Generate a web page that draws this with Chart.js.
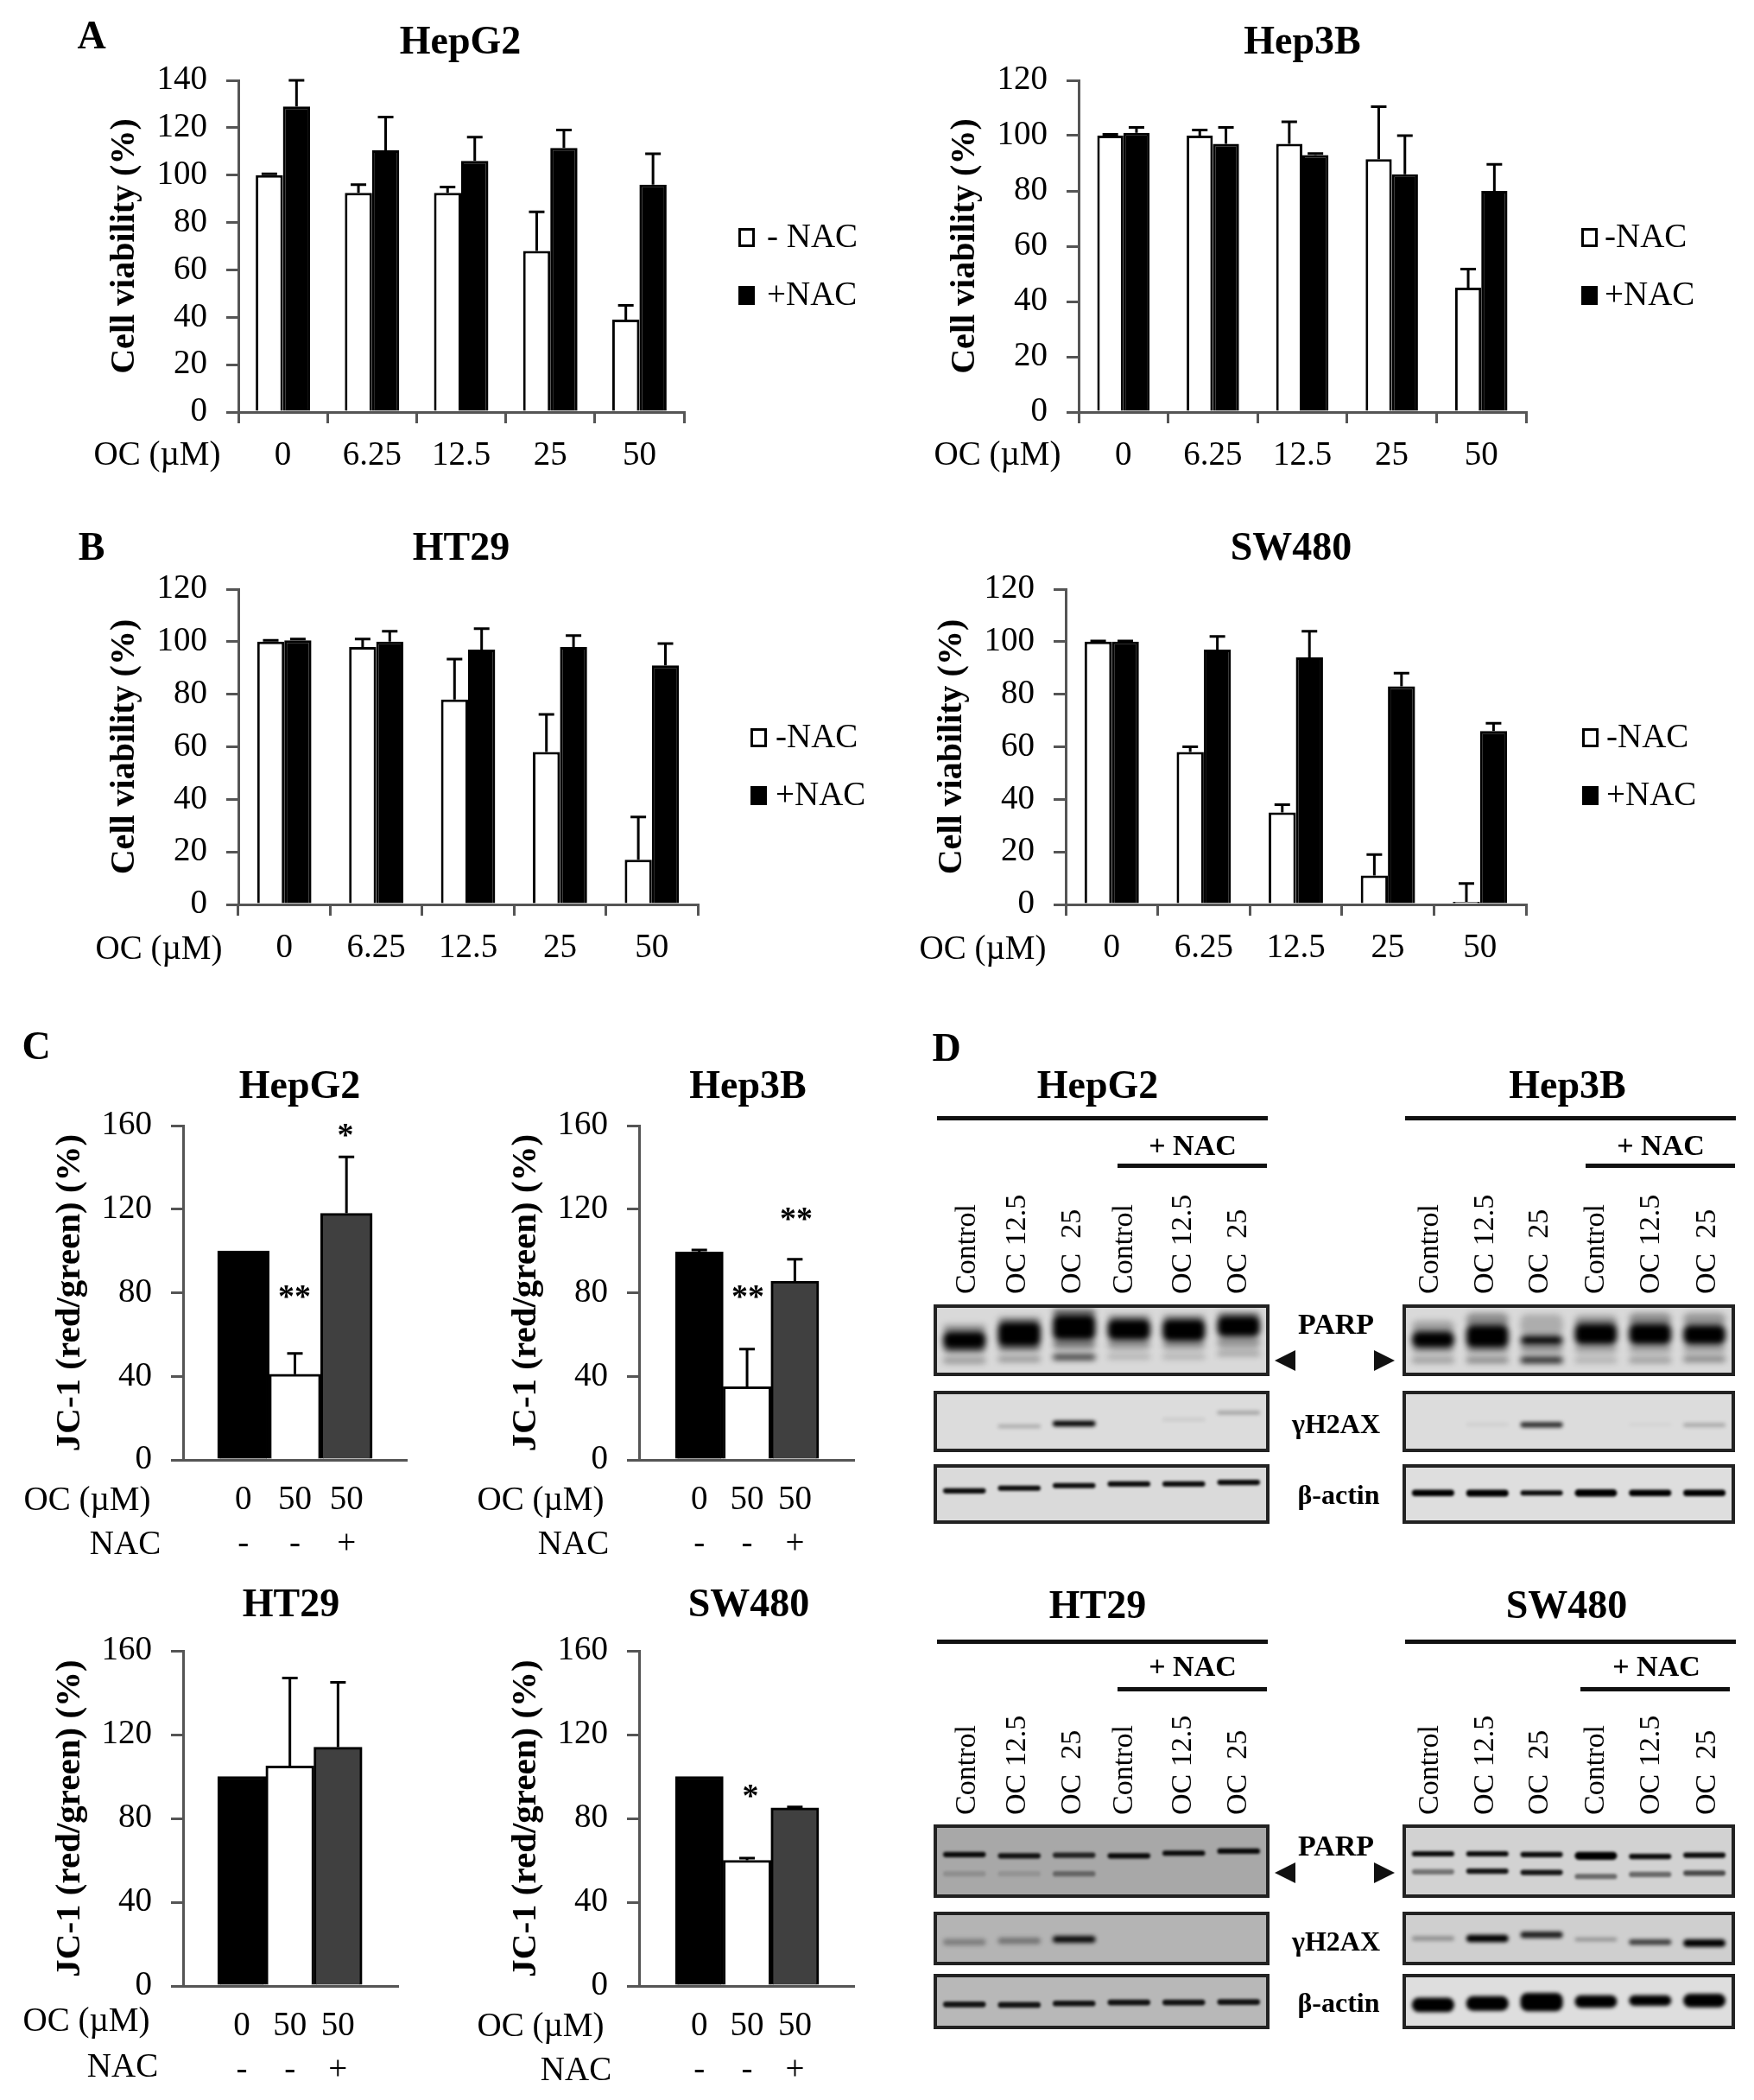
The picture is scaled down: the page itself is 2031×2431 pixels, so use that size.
<!DOCTYPE html>
<html>
<head>
<meta charset="utf-8">
<title>OC NAC viability, JC-1 and western blots</title>
<script src="https://cdn.jsdelivr.net/npm/chart.js@4"></script>
<style>
	html, body { margin: 0; padding: 0; background: #fff; }
	#page { position: relative; width: 2031px; height: 2431px; overflow: hidden; filter: blur(0.5px); }
	#page canvas { position: absolute; display: block; }
	.txt { position: absolute; font-family: "Liberation Serif", serif; color: #000; white-space: pre; line-height: 1; }
	.blot { position: absolute; box-sizing: border-box; border: 4px solid #222; overflow: hidden; }
	.mark { position: absolute; }
	.rule { position: absolute; background: #111; height: 5px; }
</style>
</head>
<body>
<div id="page"></div>
<script>
// panels A and B: cell viability (%)
const doses = ["0", "6.25", "12.5", "25", "50"];

const hepg2Minus = [100, 92.5, 92.5, 68, 39];
const hepg2MinusTop = [100.5, 96, 95, 84.5, 45];
const hepg2Plus = [129, 110.5, 106, 111.5, 96];
const hepg2PlusTop = [140, 124.5, 116, 119, 109];

const hep3bMinus = [100, 100, 97, 91.5, 45];
const hep3bMinusTop = [100.5, 102, 105, 110.5, 51.7];
const hep3bPlus = [101, 97, 93, 86, 80];
const hep3bPlusTop = [103, 103, 93.5, 100, 89.6];

const ht29Minus = [100, 98, 78, 58, 17];
const ht29MinusTop = [100.5, 101, 93.4, 72.3, 33.3];
const ht29Plus = [100.5, 100, 97, 98, 91];
const ht29PlusTop = [101, 104, 105, 102.3, 99.3];

const sw480Minus = [100, 58, 35, 11, 1];
const sw480MinusTop = [100.3, 60, 38, 19, 8];
const sw480Plus = [100, 97, 94, 83, 66];
const sw480PlusTop = [100.3, 102, 104, 88, 69];

// panel C: JC-1 (red/green) (%)
const jcDoses = ["0", "50", "50"];
const jcNac = ["-", "-", "+"];
const jcHepg2 = [100, 41, 118];
const jcHepg2Top = [100, 51, 145];
const jcHep3b = [99.5, 35, 85.5];
const jcHep3bTop = [100.5, 53, 96];
const jcHt29 = [100, 105, 114];
const jcHt29Top = [100, 147, 145];
const jcSw480 = [100, 60, 85];
const jcSw480Top = [100, 61, 85.5];

// panel D: one row per band, one [low, high, density] per lane, % of blot height
const laneNames = ["Control", "OC 12.5", "OC  25", "Control", "OC 12.5", "OC  25"];
const hepg2Parp = [
	[[36, 64, 1], [40, 79, 1], [50, 90, 1], [50, 83, 1], [48, 83, 1], [55, 88, 1]],
	[[30, 42, 0.35], [32, 44, 0.35], [36, 52, 0.4], [36, 52, 0.3], [36, 50, 0.3], [38, 55, 0.3]],
	[[62, 74, 0.3], [76, 86, 0.3], [88, 98, 0.5], [80, 90, 0.25], [80, 90, 0.25], [84, 94, 0.3]],
	[[14, 24, 0.3], [17, 25, 0.35], [20, 28, 0.85], [21, 29, 0.2], [21, 29, 0.2], [26, 33, 0.3]],
];
const hep3bParp = [
	[[38, 64, 1], [38, 74, 1], [43, 57, 1], [43, 76, 1], [43, 76, 1], [43, 74, 1]],
	[[60, 80, 0.25], [70, 92, 0.35], [57, 90, 0.2], [70, 88, 0.3], [72, 92, 0.35], [72, 92, 0.3]],
	[[30, 40, 0.25], [30, 40, 0.3], [30, 43, 0.3], [30, 43, 0.25], [30, 43, 0.25], [30, 43, 0.25]],
	[[15, 24, 0.3], [15, 24, 0.4], [15, 24, 0.95], [15, 24, 0.2], [15, 24, 0.3], [17, 25, 0.45]],
];
const hepg2Gamma = [
	[[0, 0, 0], [38, 44, 0.25], [41, 51, 1], [0, 0, 0], [51, 56, 0.1], [63, 69, 0.3]],
];
const hep3bGamma = [
	[[0, 0, 0], [42, 47, 0.08], [39, 49, 0.8], [0, 0, 0], [42, 47, 0.05], [40, 47, 0.25]],
];
const hepg2Actin = [
	[[51, 61, 0.95], [56, 66, 0.95], [61, 71, 0.95], [64, 74, 0.95], [64, 74, 0.95], [67, 77, 0.95]],
];
const hep3bActin = [
	[[46, 58, 1], [45, 58, 1], [47, 57, 0.95], [45, 59, 1], [46, 58, 1], [46, 58, 1]],
];
const ht29Parp = [
	[[56, 64, 0.95], [54, 62, 0.9], [55, 63, 0.8], [54, 62, 0.95], [58, 66, 0.95], [61, 69, 0.95]],
	[[27, 35, 0.15], [27, 35, 0.12], [27, 35, 0.4], [0, 0, 0], [0, 0, 0], [0, 0, 0]],
];
const sw480Parp = [
	[[57, 65, 0.95], [57, 65, 0.95], [56, 64, 0.95], [52, 64, 1], [53, 61, 0.95], [55, 63, 0.95]],
	[[30, 38, 0.45], [31, 39, 0.9], [29, 37, 0.9], [23, 31, 0.5], [26, 34, 0.5], [28, 36, 0.65]],
];
const ht29Gamma = [
	[[35, 49, 0.3], [38, 52, 0.35], [41, 55, 1], [0, 0, 0], [0, 0, 0], [0, 0, 0]],
];
const sw480Gamma = [
	[[45, 55, 0.3], [42, 58, 1], [51, 65, 0.85], [44, 52, 0.3], [36, 48, 0.7], [32, 48, 1]],
];
const ht29Actin = [
	[[38, 50, 0.9], [37, 49, 0.9], [40, 52, 0.9], [42, 54, 0.9], [42, 54, 0.9], [43, 55, 0.9]],
];
const sw480Actin = [
	[[28, 58, 1], [31, 61, 1], [30, 68, 1], [37, 63, 1], [41, 63, 1], [38, 66, 1]],
];

Chart.defaults.animation = false;
Chart.defaults.responsive = false;
Chart.defaults.font.family = '"Liberation Serif", serif';
Chart.defaults.color = "#000";

const page = document.getElementById("page");
const AXIS = "#555";
const TOP_PAD = 30;

// upper error bars, read from dataset.tops
const errorBars = {
	id: "errorBars",
	afterDatasetsDraw(chart) {
		const ctx = chart.ctx;
		ctx.save();
		ctx.strokeStyle = "#000";
		ctx.lineWidth = 3;
		chart.data.datasets.forEach((ds, d) => {
			chart.getDatasetMeta(d).data.forEach((bar, i) => {
				if (ds.tops[i] <= ds.values[i]) return;
				const y = chart.scales.y.getPixelForValue(ds.tops[i]);
				ctx.beginPath();
				ctx.moveTo(bar.x, bar.y);
				ctx.lineTo(bar.x, y);
				ctx.moveTo(bar.x - 9, y);
				ctx.lineTo(bar.x + 9, y);
				ctx.stroke();
			});
		});
		ctx.restore();
	},
};

// bands of a blot are soft, not crisp rectangles
const softBands = {
	id: "softBands",
	beforeDatasetsDraw(chart, args, opts) {
		chart.ctx.save();
		chart.ctx.filter = `blur(${opts.radius}px)`;
	},
	afterDatasetsDraw(chart) {
		chart.ctx.restore();
	},
};

function addCanvas(left, top, width, height, parent) {
	const c = document.createElement("canvas");
	c.width = width;
	c.height = height;
	c.style.left = left + "px";
	c.style.top = top + "px";
	(parent || page).appendChild(c);
	return c;
}

function label(text, x, y, size, opts) {
	const o = opts || {};
	const el = document.createElement("div");
	el.className = "txt";
	el.textContent = text;
	el.style.left = x + "px";
	el.style.fontSize = size + "px";
	if (o.bold) el.style.fontWeight = "bold";
	if (o.lane) {
		el.style.top = y + "px";
		el.style.transformOrigin = "0 0";
		el.style.transform = "rotate(-90deg) translateY(-50%)";
	} else {
		el.style.top = y - 3 + "px";
		el.style.transform = o.left ? "translate(0, -50%)" : "translate(-50%, -50%)";
	}
	page.appendChild(el);
}

// keep the plot edges on the first and last tick, no room held back for labels
function pinnedWidth(width) {
	return (s) => {
		s.width = width;
		s.paddingTop = 0;
		s.paddingBottom = 0;
	};
}

function pinnedHeight(height) {
	return (s) => {
		s.height = height;
		s.paddingLeft = 0;
		s.paddingRight = 0;
	};
}

function yAxis(max, step, title, titleSize, width) {
	return {
		min: 0,
		max: max,
		ticks: { stepSize: step, padding: 22, font: { size: 39 } },
		grid: { drawOnChartArea: false, tickLength: 14, color: AXIS, lineWidth: 3 },
		border: { color: AXIS, width: 3 },
		title: { display: true, text: title, padding: 0, font: { size: titleSize, weight: "bold" } },
		afterFit: pinnedWidth(width),
	};
}

// one viability chart, placed by its axis corner
function viabilityChart(axisX, topY, rightX, zeroY, titleGap, yMax, minus, minusTop, plus, plusTop, share) {
	const yWidth = titleGap + 24;
	const canvas = addCanvas(axisX - yWidth, topY - TOP_PAD, yWidth + rightX - axisX + 4, TOP_PAD + zeroY - topY + 90);
	new Chart(canvas, {
		type: "bar",
		data: {
			labels: doses,
			datasets: [
				{ label: "-NAC", data: minus, values: minus, tops: minusTop, backgroundColor: "#fff", borderColor: "#000", borderWidth: 3, categoryPercentage: share, barPercentage: 1 },
				{ label: "+NAC", data: plus, values: plus, tops: plusTop, backgroundColor: "#000", borderColor: "#000", borderWidth: 3, categoryPercentage: share, barPercentage: 1 },
			],
		},
		options: {
			layout: { autoPadding: false, padding: { top: TOP_PAD, right: 4 } },
			plugins: { legend: { display: false }, tooltip: { enabled: false } },
			scales: {
				x: {
					ticks: { autoSkip: false, maxRotation: 0, padding: 14, font: { size: 39 } },
					grid: { drawOnChartArea: false, tickLength: 13, color: AXIS, lineWidth: 3 },
					border: { color: AXIS, width: 3 },
					afterFit: pinnedHeight(90),
				},
				y: yAxis(yMax, 20, "Cell viability (%)", 40, yWidth),
			},
		},
		plugins: [errorBars],
	});
}

// one JC-1 chart; x is linear so the three touching bars sit inside a longer axis
function jcChart(axisX, topY, rightX, zeroY, titleGap, xMin, xMax, values, tops) {
	const yWidth = titleGap + 24;
	const canvas = addCanvas(axisX - yWidth, topY - TOP_PAD, yWidth + rightX - axisX + 4, TOP_PAD + zeroY - topY + 125);
	new Chart(canvas, {
		type: "bar",
		data: {
			datasets: [{
				data: values.map((v, i) => ({ x: i + 1, y: v })),
				values: values,
				tops: tops,
				backgroundColor: ["#000", "#fff", "#404040"],
				borderColor: "#000",
				borderWidth: 3,
				categoryPercentage: 1,
				barPercentage: 1,
			}],
		},
		options: {
			layout: { autoPadding: false, padding: { top: TOP_PAD, right: 4 } },
			plugins: { legend: { display: false }, tooltip: { enabled: false } },
			scales: {
				x: {
					type: "linear",
					offset: false,
					min: xMin,
					max: xMax,
					afterBuildTicks: (s) => { s.ticks = [1, 2, 3].map((v) => ({ value: v })); },
					ticks: {
						autoSkip: false,
						maxRotation: 0,
						padding: 21,
						font: { size: 39, lineHeight: 1.31 },
						callback: (v) => [jcDoses[v - 1], jcNac[v - 1]],
					},
					grid: { drawOnChartArea: false, drawTicks: false, color: AXIS },
					border: { color: AXIS, width: 3 },
					afterFit: pinnedHeight(125),
				},
				y: yAxis(160, 40, "JC-1 (red/green) (%)", 41, yWidth),
			},
		},
		plugins: [errorBars],
	});
}

// one blot strip: lanes on a category scale, bands as floating bars
function blot(left, top, right, bottom, gray, bands, soft) {
	const box = document.createElement("div");
	box.className = "blot";
	box.style.left = left + "px";
	box.style.top = top + "px";
	box.style.width = right - left + "px";
	box.style.height = bottom - top + "px";
	box.style.background = gray;
	page.appendChild(box);
	const canvas = addCanvas(0, 0, right - left - 8, bottom - top - 8, box);
	new Chart(canvas, {
		type: "bar",
		data: {
			labels: laneNames,
			datasets: bands.map((band) => ({
				data: band.map((b) => [b[0], b[1]]),
				backgroundColor: band.map((b) => `rgba(0,0,0,${b[2]})`),
				borderRadius: 8,
				borderSkipped: false,
				categoryPercentage: 0.78,
				barPercentage: 1,
				grouped: false,
			})),
		},
		options: {
			layout: { autoPadding: false },
			plugins: { legend: { display: false }, tooltip: { enabled: false }, softBands: { radius: soft } },
			scales: {
				x: { display: false },
				y: { display: false, min: 0, max: 100 },
			},
		},
		plugins: [softBands],
	});
}

function legend(boxX, textX, y1, y2, minusText) {
	[[y1, "#fff"], [y2, "#000"]].forEach(([y, fill]) => {
		const sq = document.createElement("div");
		sq.className = "mark";
		sq.style.cssText = `left:${boxX}px;top:${y - 11}px;width:19px;height:22px;box-sizing:border-box;border:3px solid #000;background:${fill}`;
		page.appendChild(sq);
	});
	label(minusText, textX, y1, 39, { left: true });
	label("+NAC", textX, y2, 39, { left: true });
}

function arrow(x, y, pointsRight) {
	const a = document.createElement("div");
	a.className = "mark";
	const side = pointsRight ? "border-left" : "border-right";
	a.style.cssText = `left:${x}px;top:${y - 12}px;width:0;height:0;border-top:12px solid transparent;border-bottom:12px solid transparent;${side}:24px solid #111`;
	page.appendChild(a);
}

function rule(x1, x2, y) {
	const r = document.createElement("div");
	r.className = "rule";
	r.style.left = x1 + "px";
	r.style.width = x2 - x1 + "px";
	r.style.top = y - 2 + "px";
	page.appendChild(r);
}

// panels A and B
viabilityChart(276, 93, 792, 477, 131, 140, hepg2Minus, hepg2MinusTop, hepg2Plus, hepg2PlusTop, 0.61);
viabilityChart(1249, 93, 1767, 477, 131, 120, hep3bMinus, hep3bMinusTop, hep3bPlus, hep3bPlusTop, 0.585);
viabilityChart(276, 682, 808, 1047, 131, 120, ht29Minus, ht29MinusTop, ht29Plus, ht29PlusTop, 0.59);
viabilityChart(1234, 682, 1767, 1047, 131, 120, sw480Minus, sw480MinusTop, sw480Plus, sw480PlusTop, 0.59);

label("A", 106, 44, 46, { bold: true });
label("B", 106, 636, 46, { bold: true });
label("C", 42, 1214, 46, { bold: true });
label("D", 1096, 1216, 46, { bold: true });
label("HepG2", 533, 50, 46, { bold: true });
label("Hep3B", 1508, 50, 46, { bold: true });
label("HT29", 534, 636, 46, { bold: true });
label("SW480", 1495, 636, 46, { bold: true });

label("OC (µM)", 182, 527, 39);
label("OC (µM)", 1155, 527, 39);
label("OC (µM)", 184, 1099, 39);
label("OC (µM)", 1138, 1099, 39);

legend(855, 888, 275, 342, "- NAC");
legend(1831, 1858, 275, 342, "-NAC");
legend(869, 898, 854, 921, "-NAC");
legend(1832, 1860, 854, 921, "-NAC");

// panel C
jcChart(212, 1303, 471, 1690, 131, -0.17, 4.17, jcHepg2, jcHepg2Top);
jcChart(740, 1303, 989, 1690, 131, -0.26, 4.24, jcHep3b, jcHep3bTop);
jcChart(212, 1911, 461, 2299, 131, -0.22, 4.25, jcHt29, jcHt29Top);
jcChart(740, 1911, 989, 2299, 131, -0.26, 4.24, jcSw480, jcSw480Top);

label("HepG2", 347, 1259, 46, { bold: true });
label("Hep3B", 866, 1259, 46, { bold: true });
label("HT29", 337, 1859, 46, { bold: true });
label("SW480", 867, 1859, 46, { bold: true });

label("OC (µM)", 101, 1737, 39);
label("NAC", 145, 1788, 39);
label("OC (µM)", 626, 1737, 39);
label("NAC", 664, 1788, 39);
label("OC (µM)", 100, 2340, 39);
label("NAC", 142, 2393, 39);
label("OC (µM)", 626, 2346, 39);
label("NAC", 667, 2397, 39);

label("*", 400, 1316, 38, { bold: true });
label("**", 341, 1503, 38, { bold: true });
label("**", 866, 1503, 38, { bold: true });
label("**", 922, 1413, 38, { bold: true });
label("*", 869, 2081, 38, { bold: true });

// panel D
const laneXLeft = [1118, 1176, 1240, 1300, 1368, 1432];
const laneXRight = [1654, 1718, 1781, 1846, 1910, 1975];

function blotGroup(name, titleX, titleY, ruleY, nacY, nacLineY, nacX, nacStart, nacEnd, laneX, laneBottom, ruleStart, ruleEnd) {
	label(name, titleX, titleY, 46, { bold: true });
	rule(ruleStart, ruleEnd, ruleY);
	label("+ NAC", nacX, nacY, 34, { bold: true });
	rule(nacStart, nacEnd, nacLineY);
	laneNames.forEach((n, i) => label(n, laneX[i], laneBottom, 34, { lane: true }));
}

blotGroup("HepG2", 1271, 1259, 1294, 1329, 1349, 1381, 1294, 1467, laneXLeft, 1498, 1085, 1468);
blotGroup("Hep3B", 1815, 1259, 1294, 1329, 1349, 1923, 1836, 2009, laneXRight, 1498, 1627, 2010);
blotGroup("HT29", 1271, 1861, 1900, 1932, 1955, 1381, 1294, 1467, laneXLeft, 2101, 1085, 1468);
blotGroup("SW480", 1814, 1861, 1900, 1932, 1955, 1918, 1830, 2003, laneXRight, 2101, 1627, 2010);

blot(1081, 1510, 1470, 1593, "#d9d9d9", hepg2Parp, 3.5);
blot(1081, 1610, 1470, 1681, "#dcdcdc", hepg2Gamma, 2);
blot(1081, 1695, 1470, 1764, "#dadada", hepg2Actin, 1.5);
blot(1624, 1510, 2009, 1593, "#d9d9d9", hep3bParp, 3.5);
blot(1624, 1610, 2009, 1681, "#dcdcdc", hep3bGamma, 2);
blot(1624, 1695, 2009, 1764, "#dedede", hep3bActin, 1.5);
blot(1081, 2112, 1470, 2197, "#a8a8a8", ht29Parp, 1.5);
blot(1081, 2213, 1470, 2275, "#b4b4b4", ht29Gamma, 2.5);
blot(1081, 2285, 1470, 2349, "#b8b8b8", ht29Actin, 1.5);
blot(1624, 2112, 2009, 2197, "#d2d2d2", sw480Parp, 1.5);
blot(1624, 2213, 2009, 2275, "#cfcfcf", sw480Gamma, 2);
blot(1624, 2285, 2009, 2349, "#dedede", sw480Actin, 2);

[[1536, 1651, 1733, 1575], [2140, 2250, 2321, 2168]].forEach(([parpY, gammaY, actinY, arrowY]) => {
	label("PARP", 1547, parpY, 34, { bold: true });
	label("γH2AX", 1547, gammaY, 32, { bold: true });
	label("β-actin", 1550, actinY, 32, { bold: true });
	arrow(1476, arrowY, false);
	arrow(1591, arrowY, true);
});
</script>
</body>
</html>
